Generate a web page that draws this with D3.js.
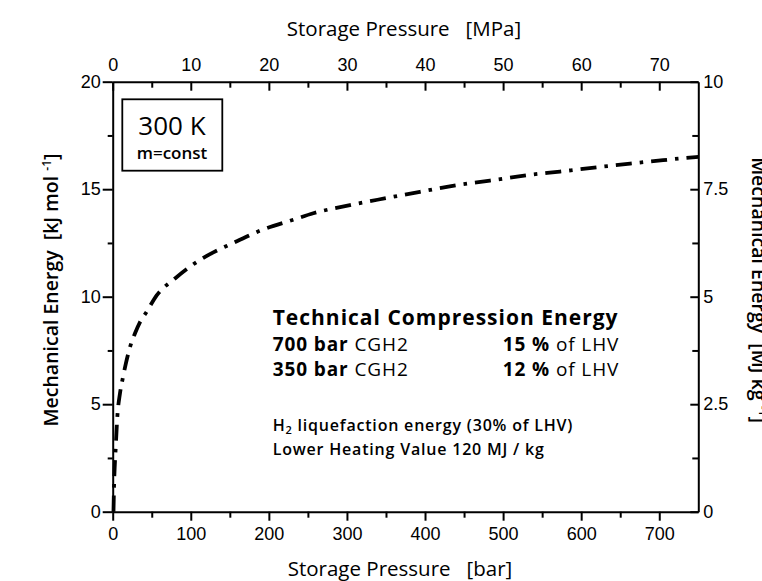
<!DOCTYPE html>
<html><head><meta charset="utf-8">
<script src="https://cdn.jsdelivr.net/npm/d3@7"></script>
<style>
html,body{margin:0;padding:0;background:#fff;}
svg{display:block;}
.tick text{font-family:"Liberation Sans",Arial,sans-serif;font-size:18px;fill:#000;}
.domain{stroke:#000;stroke-width:2;}
.tick line{stroke:#000;stroke-width:2;}
.ann{font-family:"Open Sans",sans-serif;fill:#000;}
</style></head><body>
<svg id="chart" width="762" height="581"></svg>
<script>
// ---- data ----
const pressureBar = [1, 1.7, 3.8, 5.9, 9.3, 12.3, 16.6, 22.2, 28.6, 35, 43.5, 56.3, 79.8, 99, 124.6, 154.4, 188.6, 231.3, 256.9, 303.9, 350.9, 393.5, 440.5, 483.2, 530.2, 572.8, 619.8, 662.7, 705, 732.9, 750];
const energyKJmol = [0, 1.16, 2.95, 4.4, 5.5, 6.1, 6.85, 7.66, 8.3, 8.82, 9.3, 10.06, 10.85, 11.4, 11.98, 12.5, 13.07, 13.58, 13.88, 14.26, 14.59, 14.88, 15.19, 15.4, 15.65, 15.82, 16.02, 16.19, 16.35, 16.45, 16.5];

const barTicks = [0, 100, 200, 300, 400, 500, 600, 700];
const barMinorTicks = [50, 150, 250, 350, 450, 550, 650];
const mpaTicks = [0, 10, 20, 30, 40, 50, 60, 70];
const mpaMinorTicks = [5, 15, 25, 35, 45, 55, 65];
const kjTicks = [0, 5, 10, 15, 20];
const kjMinorTicks = [2.5, 7.5, 12.5, 17.5];
const mjTicks = [0, 2.5, 5, 7.5, 10];
const mjTickLabels = ["0", "2.5", "5", "7.5", "10"];
const mjMinorTicks = [1.25, 3.75, 6.25, 8.75];

const svg = d3.select("#chart");
const L = 112.7, R = 698.3, T = 81.7, B = 511.7;

const x = d3.scaleLinear().domain([0, 750]).range([L, R]);
const xTop = d3.scaleLinear().domain([0, 75]).range([L, R]);
const y = d3.scaleLinear().domain([0, 20]).range([B, T]);
const yR = d3.scaleLinear().domain([0, 10]).range([B, T]);

function noDomain(g){ g.select(".domain").remove(); }

// bottom axis
svg.append("g").attr("transform", `translate(0,${B})`)
  .call(d3.axisBottom(x).tickValues(barTicks).tickSizeInner(9).tickSizeOuter(0).tickPadding(7));
svg.append("g").attr("transform", `translate(0,${B})`)
  .call(d3.axisBottom(x).tickValues(barMinorTicks).tickSize(6).tickFormat("")).call(noDomain);

// top axis (ticks inside)
svg.append("g").attr("transform", `translate(0,${T})`)
  .call(d3.axisTop(xTop).tickValues(mpaTicks).tickSizeInner(-9).tickSizeOuter(0).tickPadding(11));
svg.append("g").attr("transform", `translate(0,${T})`)
  .call(d3.axisTop(xTop).tickValues(mpaMinorTicks).tickSizeInner(-6).tickSizeOuter(0).tickFormat("")).call(noDomain);

// left axis
svg.append("g").attr("transform", `translate(${L},0)`)
  .call(d3.axisLeft(y).tickValues(kjTicks).tickSizeInner(10).tickSizeOuter(0).tickPadding(2));
svg.append("g").attr("transform", `translate(${L},0)`)
  .call(d3.axisLeft(y).tickValues(kjMinorTicks).tickSize(5).tickFormat("")).call(noDomain);

// right axis (ticks inside)
svg.append("g").attr("transform", `translate(${R},0)`)
  .call(d3.axisRight(yR).tickValues(mjTicks).tickSizeInner(-8).tickSizeOuter(0).tickPadding(5)
    .tickFormat((d, i) => mjTickLabels[i]));
svg.append("g").attr("transform", `translate(${R},0)`)
  .call(d3.axisRight(yR).tickValues(mjMinorTicks).tickSizeInner(-6).tickSizeOuter(0).tickFormat("")).call(noDomain);

// curve
const pts = pressureBar.map((p, i) => ({p, e: energyKJmol[i]}));
svg.append("path").datum(pts)
  .attr("d", d3.line().x(d => x(d.p)).y(d => y(d.e)).curve(d3.curveMonotoneX))
  .attr("fill", "none").attr("stroke", "#000").attr("stroke-width", 3.8)
  .attr("stroke-dasharray", "16,8,3.5,8");

// axis titles
svg.append("text").attr("class", "ann").attr("x", 404).attr("y", 36)
  .attr("text-anchor", "middle").style("font-size", "20.5px").style("font-weight", 500).style("white-space", "pre")
  .text("Storage Pressure   [MPa]");
svg.append("text").attr("class", "ann").attr("x", 400).attr("y", 576)
  .attr("text-anchor", "middle").style("font-size", "20.5px").style("font-weight", 500).style("white-space", "pre")
  .text("Storage Pressure   [bar]");

const lt = svg.append("text").attr("class", "ann")
  .attr("transform", "translate(58,290) rotate(-90)")
  .attr("text-anchor", "middle").style("font-size", "19.5px").style("font-weight", 600).style("white-space", "pre");
lt.append("tspan").text("Mechanical Energy  [kJ mol ");
lt.append("tspan").attr("dy", -7).style("font-size", "12px").text("-1");
lt.append("tspan").attr("dy", 7).text("]");

const rt = svg.append("text").attr("class", "ann")
  .attr("transform", "translate(752,290) rotate(90)")
  .attr("text-anchor", "middle").style("font-size", "19.5px").style("font-weight", 600).style("white-space", "pre");
rt.append("tspan").text("Mechanical Energy  [MJ kg ");
rt.append("tspan").attr("dy", -7).style("font-size", "12px").text("-1");
rt.append("tspan").attr("dy", 7).text("]");

// box
svg.append("rect").attr("x", 122.3).attr("y", 99.3).attr("width", 100).attr("height", 71.4)
  .attr("fill", "#fff").attr("stroke", "#000").attr("stroke-width", 1.8);
svg.append("text").attr("class", "ann").attr("x", 172).attr("y", 134.5)
  .attr("text-anchor", "middle").style("font-size", "26px").text("300 K");
svg.append("text").attr("class", "ann").attr("x", 172).attr("y", 159)
  .attr("text-anchor", "middle").style("font-size", "17px").style("font-weight", 600).text("m=const");

// annotation block
svg.append("text").attr("class", "ann").attr("x", 272.7).attr("y", 325)
  .style("font-size", "21px").style("font-weight", 700).style("letter-spacing", "1px")
  .text("Technical Compression Energy");

function row(yb, left, right) {
  const a = svg.append("text").attr("class", "ann").attr("x", 272.7).attr("y", yb)
    .style("font-size", "19px").style("letter-spacing", "0.9px").style("white-space", "pre");
  a.append("tspan").style("font-weight", 700).text(left[0]);
  a.append("tspan").text(left[1]);
  const b = svg.append("text").attr("class", "ann").attr("x", 619.3).attr("y", yb)
    .attr("text-anchor", "end")
    .style("font-size", "19px").style("letter-spacing", "0.9px").style("white-space", "pre");
  b.append("tspan").style("font-weight", 700).text(right[0]);
  b.append("tspan").text(right[1]);
}
row(351, ["700 bar", " CGH2"], ["15 %", " of LHV"]);
row(375.7, ["350 bar", " CGH2"], ["12 %", " of LHV"]);

const h2 = svg.append("text").attr("class", "ann").attr("x", 272.7).attr("y", 431)
  .style("font-size", "16px").style("font-weight", 600).style("letter-spacing", "0.8px");
h2.append("tspan").text("H");
h2.append("tspan").attr("dy", 3).style("font-size", "11px").text("2");
h2.append("tspan").attr("dy", -3).text(" liquefaction energy (30% of LHV)");
svg.append("text").attr("class", "ann").attr("x", 272.7).attr("y", 455)
  .style("font-size", "16px").style("font-weight", 600).style("letter-spacing", "0.8px")
  .text("Lower Heating Value 120 MJ / kg");
</script>
</body></html>
